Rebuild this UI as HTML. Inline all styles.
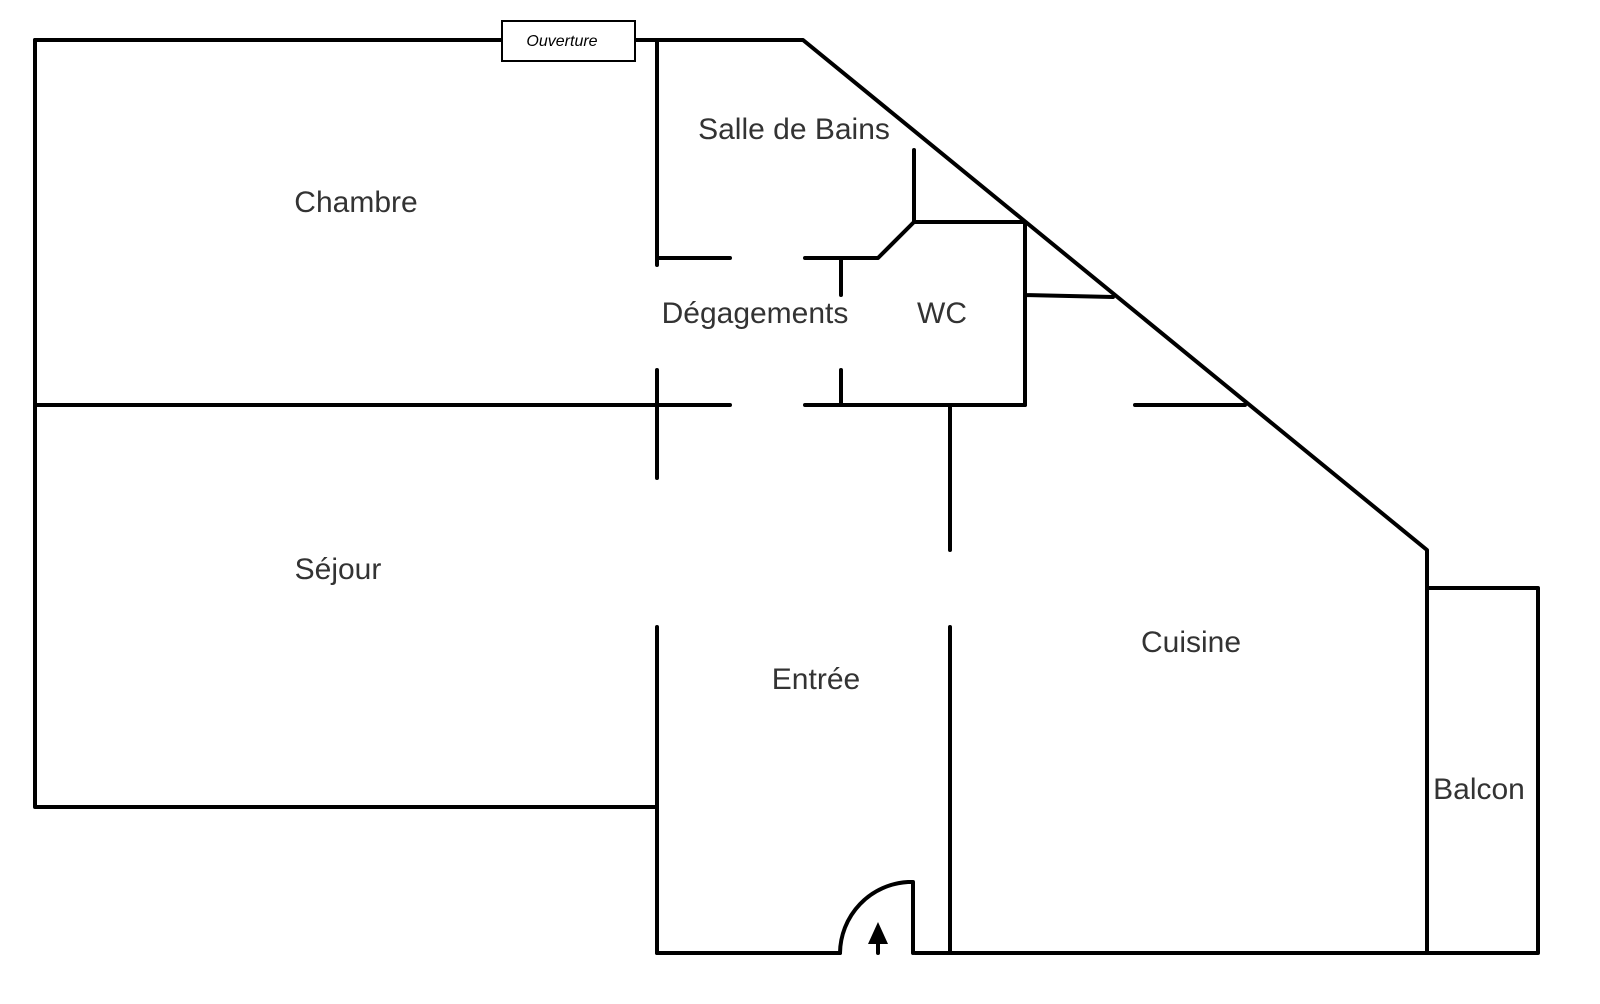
<!DOCTYPE html>
<html><head><meta charset="utf-8"><style>
html,body{margin:0;padding:0;background:#fff;}
svg{display:block;}
text{font-family:"Liberation Sans",sans-serif;fill:#333;}
</style></head><body>
<svg width="1600" height="1004" viewBox="0 0 1600 1004" xmlns="http://www.w3.org/2000/svg">
<g stroke="#000" stroke-width="4" fill="none" stroke-linecap="round" stroke-linejoin="round">
<path d="M35,40 H502 M635,40 H803 L1427,550 V953"/>
<path d="M35,40 V807 H657"/>
<path d="M35,405 H730 M805,405 H1025 M1135,405 H1245"/>
<path d="M657,40 V265 M657,258 H730 M805,258 H878 L914,222 M914,150 V222 H1025 V405 M1025,295 L1113,297"/>
<path d="M841,258 V295 M841,370 V405 M657,370 V478"/>
<path d="M950,405 V550 M950,627 V953 M657,627 V953"/>
<path d="M657,953 H840 M915,953 H1538 V588 H1427"/>
<path d="M840,953 A72,72 0 0 1 908,882 H913 V953"/>
<path d="M878,953 V935"/>
</g>
<polygon points="878,922 868,944 888,944" fill="#000"/>
<rect x="502" y="21" width="133" height="40" fill="#fff" stroke="#000" stroke-width="2"/>
<text x="562" y="46" font-size="16" font-style="italic" text-anchor="middle" style="fill:#000">Ouverture</text>
<g font-size="30" text-anchor="middle">
<text x="356" y="212">Chambre</text>
<text x="794" y="139">Salle de Bains</text>
<text x="755" y="323">Dégagements</text>
<text x="942" y="323">WC</text>
<text x="338" y="579">Séjour</text>
<text x="816" y="689">Entrée</text>
<text x="1191" y="652">Cuisine</text>
<text x="1479" y="799">Balcon</text>
</g>
</svg>
</body></html>
